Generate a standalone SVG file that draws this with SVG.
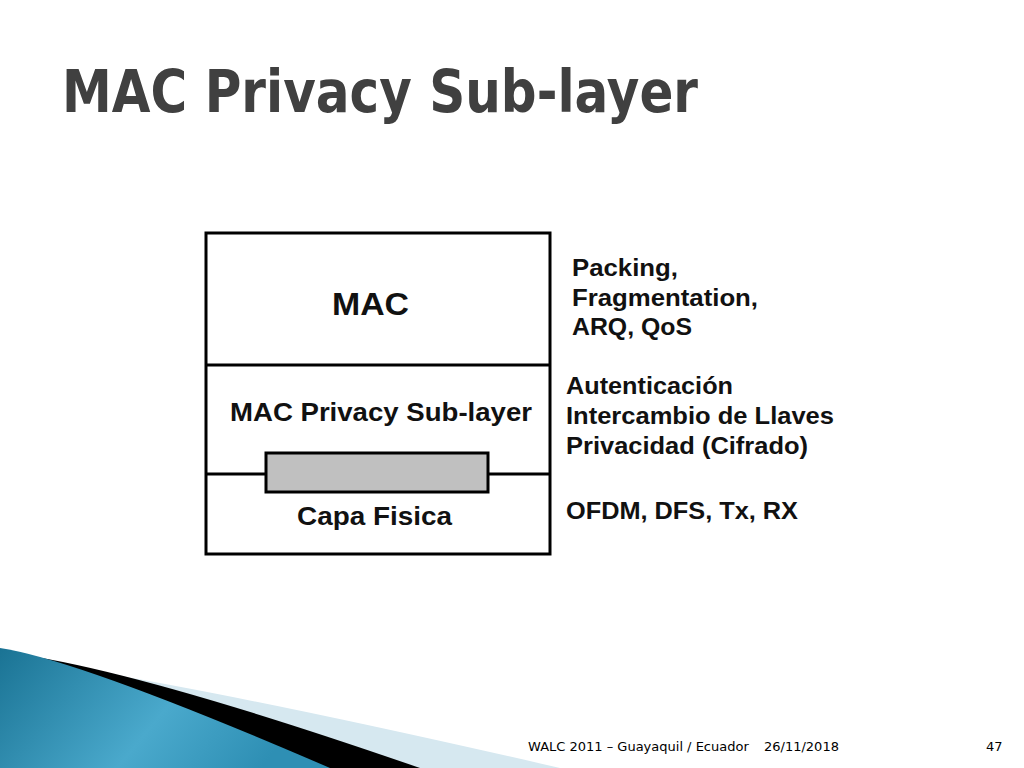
<svg xmlns="http://www.w3.org/2000/svg" width="1024" height="768" viewBox="0 0 1024 768">
<style>
.b{font-family:"Liberation Sans",Arial,sans-serif;font-weight:bold;fill:#111}
.f{font-family:"DejaVu Sans",Verdana,sans-serif;font-size:13px;fill:#000}
</style>
<defs><linearGradient id="g" x1="0" y1="0" x2="1" y2="0.3"><stop offset="0" stop-color="#1a7394"/><stop offset="0.6" stop-color="#4aa9cc"/><stop offset="1" stop-color="#2e8fb4"/></linearGradient></defs>
<rect width="1024" height="768" fill="#fff"/>
<text x="62" y="112" font-family="DejaVu Sans,Verdana,sans-serif" font-weight="bold" font-size="58" fill="#404040" textLength="636" lengthAdjust="spacingAndGlyphs">MAC Privacy Sub-layer</text>
<g id="deco">
<path d="M0,658 Q160,676 560,768 L0,768 Z" fill="#d6e8f0"/>
<path d="M0,652 Q120,664 420,768 L0,768 Z" fill="#000"/>
<path d="M0,648 Q80,660 330,768 L0,768 Z" fill="url(#g)"/>
</g>
<g id="stack" fill="none" stroke="#000" stroke-width="3">
<rect x="206" y="233" width="344" height="321"/>
<line x1="206" y1="365" x2="550" y2="365"/>
<line x1="206" y1="474" x2="550" y2="474"/>
<rect x="266" y="453" width="222" height="39" fill="#c0c0c0"/>
</g>
<g id="labels">
<text class="b" x="332" y="315" font-size="32" textLength="77" lengthAdjust="spacingAndGlyphs">MAC</text>
<text class="b" x="230" y="421" font-size="25" textLength="302" lengthAdjust="spacingAndGlyphs">MAC Privacy Sub-layer</text>
<text class="b" x="297" y="525" font-size="25" textLength="155" lengthAdjust="spacingAndGlyphs">Capa Fisica</text>
<text class="b" x="572" y="276" font-size="23" textLength="106" lengthAdjust="spacingAndGlyphs">Packing,</text>
<text class="b" x="572" y="306" font-size="23" textLength="186" lengthAdjust="spacingAndGlyphs">Fragmentation,</text>
<text class="b" x="572" y="335" font-size="23" textLength="120" lengthAdjust="spacingAndGlyphs">ARQ, QoS</text>
<text class="b" x="566" y="394" font-size="23" textLength="167" lengthAdjust="spacingAndGlyphs">Autenticación</text>
<text class="b" x="566" y="424" font-size="23" textLength="268" lengthAdjust="spacingAndGlyphs">Intercambio de Llaves</text>
<text class="b" x="566" y="454" font-size="23" textLength="242" lengthAdjust="spacingAndGlyphs">Privacidad (Cifrado)</text>
<text class="b" x="566" y="519" font-size="23" textLength="232" lengthAdjust="spacingAndGlyphs">OFDM, DFS, Tx, RX</text>
</g>
<text class="f" x="528" y="751">WALC 2011 – Guayaquil / Ecuador</text>
<text class="f" x="764" y="751">26/11/2018</text>
<text class="f" x="986" y="751">47</text>
</svg>
